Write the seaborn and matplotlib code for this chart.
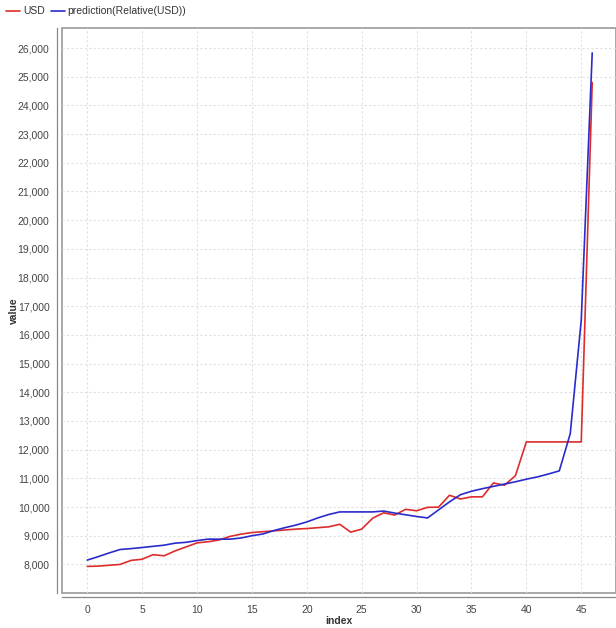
import matplotlib
matplotlib.use("Agg")
import matplotlib.pyplot as plt
import matplotlib.ticker as mticker
import pandas as pd
import seaborn as sns

index = list(range(47))
usd = [7930, 7940, 7970, 8000, 8140, 8180, 8340, 8300, 8470, 8610,
       8750, 8790, 8850, 8975, 9055, 9110, 9140, 9170, 9200, 9230,
       9250, 9280, 9310, 9400, 9125, 9230, 9610, 9800, 9720, 9920,
       9870, 9990, 9995, 10410, 10280, 10355, 10355, 10840, 10760, 11090,
       12270, 12270, 12270, 12270, 12270, 12270, 24800]
prediction = [8150, 8270, 8400, 8520, 8550, 8590, 8630, 8670, 8740, 8770,
              8830, 8880, 8880, 8880, 8920, 9000, 9060, 9180, 9280, 9370,
              9480, 9620, 9740, 9830, 9830, 9830, 9830, 9860, 9790, 9730,
              9670, 9620, 9900, 10180, 10430, 10550, 10640, 10720, 10800, 10880,
              10970, 11050, 11150, 11260, 12560, 16510, 25830]
series_names = ["USD", "prediction(Relative(USD))"]

df = pd.concat([
    pd.DataFrame({"index": index, "value": usd, "series": series_names[0]}),
    pd.DataFrame({"index": index, "value": prediction, "series": series_names[1]}),
])

sns.set_style("white")
plt.rcParams["font.family"] = ["Liberation Sans", "DejaVu Sans"]

fig = plt.figure(figsize=(6.16, 6.28), dpi=100)
ax = fig.add_axes([0.1006, 0.0565, 0.9, 0.8985])

sns.lineplot(data=df, x="index", y="value", hue="series",
             palette=["#dd2c2c", "#2b2bcc"], linewidth=1.2, ax=ax, legend=False)

ax.set_xlim(-2.3, 48.2)
ax.set_ylim(7020, 26690)
ax.xaxis.set_major_locator(mticker.MultipleLocator(5))
ax.yaxis.set_major_locator(mticker.MultipleLocator(1000))
ax.yaxis.set_major_formatter(mticker.StrMethodFormatter("{x:,.0f}"))

ax.grid(True, color="#e0e0e0", linestyle=(0, (2, 2)), linewidth=0.8)
ax.tick_params(axis="both", labelsize=7.5, colors="#555555", length=3,
               direction="out", width=0.8, pad=2.5)
ax.tick_params(axis="both", labelcolor="#444444")

for side in ["top", "right"]:
    ax.spines[side].set_visible(False)
ax.spines["left"].set_position(("outward", 3.5))
ax.spines["bottom"].set_position(("outward", 3.5))
ax.spines["left"].set_color("#888888")
ax.spines["bottom"].set_color("#888888")
ax.spines["left"].set_linewidth(0.9)
ax.spines["bottom"].set_linewidth(0.9)
ax.patch.set_edgecolor("#999999")
ax.patch.set_linewidth(1.2)

ax.set_xlabel("index", fontsize=7.5, fontweight="bold", color="#333333")
ax.set_ylabel("value", fontsize=7.5, fontweight="bold", color="#333333")
ax.xaxis.set_label_coords(0.5, -0.041)
ax.yaxis.set_label_coords(-0.078, 0.5)

handles = [plt.Line2D([], [], color="#dd2c2c", linewidth=1.2),
           plt.Line2D([], [], color="#2b2bcc", linewidth=1.2)]
fig.legend(handles, series_names, loc="upper left", bbox_to_anchor=(-0.005, 1.005),
           ncol=2, frameon=False, fontsize=7.5, handlelength=1.3, handletextpad=0.3,
           columnspacing=0.6, labelcolor="#333333")

fig.savefig("out.png", dpi=100)
